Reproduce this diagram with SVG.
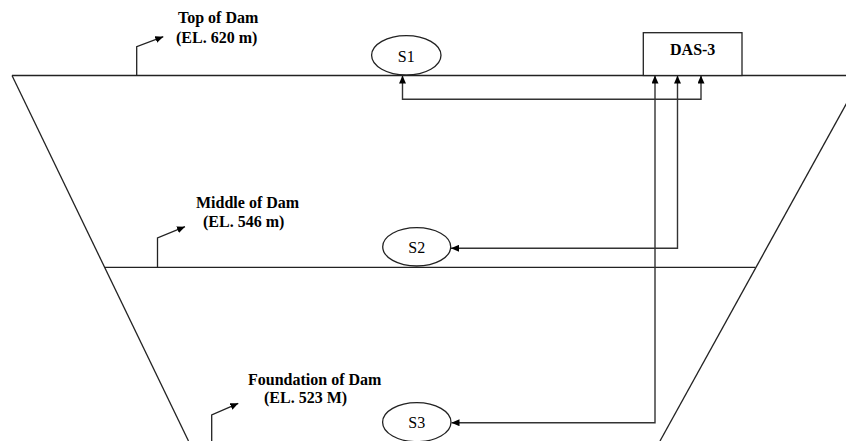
<svg xmlns="http://www.w3.org/2000/svg" width="846" height="441" viewBox="0 0 846 441">
<style>
.ln{fill:none;stroke:#222;stroke-width:1.3}
.cn{fill:none;stroke:#333;stroke-width:1.4}
.lbl{font-family:"Liberation Serif","Times New Roman",serif;font-size:16px;font-weight:bold;fill:#000}
.nd{font-family:"Liberation Serif","Times New Roman",serif;font-size:16px;fill:#000;text-anchor:middle}
.shape{fill:#fff;stroke:#222;stroke-width:1.3}
</style>
<defs>
<marker id="ah" viewBox="0 0 8 7" refX="8" refY="3.5" markerWidth="8" markerHeight="7" markerUnits="userSpaceOnUse" orient="auto-start-reverse">
<path d="M0,0 L8,3.5 L0,7 z" fill="#000"/>
</marker>
</defs>
<rect width="846" height="441" fill="#fff"/>
<g id="dam">
<path class="ln" d="M12,75.5 L846,75.5"/>
<path class="ln" d="M12,75.5 L188.5,441"/>
<path class="ln" d="M660,441 L862,75.5"/>
<path class="ln" d="M104.5,267.3 L755.5,267.3"/>
</g>
<g id="label-top">
<path class="ln" d="M136.7,75.5 L136.7,46.7 L163.3,36.7" marker-end="url(#ah)"/>
<text class="lbl" x="178" y="23">Top of Dam</text>
<text class="lbl" x="176" y="42.5">(EL. 620 m)</text>
</g>
<g id="label-middle">
<path class="ln" d="M157.5,267.3 L157.5,238 L185,226.7" marker-end="url(#ah)"/>
<text class="lbl" x="196" y="208">Middle of Dam</text>
<text class="lbl" x="203" y="227">(EL. 546 m)</text>
</g>
<g id="label-foundation">
<path class="ln" d="M211.7,441 L211.7,415 L238.3,403.3" marker-end="url(#ah)"/>
<text class="lbl" x="248" y="385">Foundation of Dam</text>
<text class="lbl" x="264" y="402.5">(EL. 523 M)</text>
</g>
<g id="connectors">
<path class="cn" d="M402.5,75.5 L402.5,99.3 L701,99.3 L701,75.5" marker-start="url(#ah)" marker-end="url(#ah)"/>
<path class="cn" d="M677.5,75.5 L677.5,248.3 L451,248.3" marker-start="url(#ah)" marker-end="url(#ah)"/>
<path class="cn" d="M655,75.5 L655,422.7 L451.5,422.7" marker-start="url(#ah)" marker-end="url(#ah)"/>
</g>
<g id="S1">
<ellipse class="shape" cx="406.3" cy="55.3" rx="34.7" ry="19.7"/>
<text class="nd" x="406.3" y="62">S1</text>
</g>
<g id="S2">
<ellipse class="shape" cx="416.7" cy="246.8" rx="34" ry="19.2"/>
<text class="nd" x="416.7" y="253">S2</text>
</g>
<g id="S3">
<ellipse class="shape" cx="416.8" cy="422.2" rx="34.2" ry="19.5"/>
<text class="nd" x="416.8" y="428">S3</text>
</g>
<g id="DAS-3">
<rect class="shape" x="643.3" y="32.7" width="98.7" height="42.8"/>
<text class="lbl" x="692.7" y="55" text-anchor="middle">DAS-3</text>
</g>
</svg>
